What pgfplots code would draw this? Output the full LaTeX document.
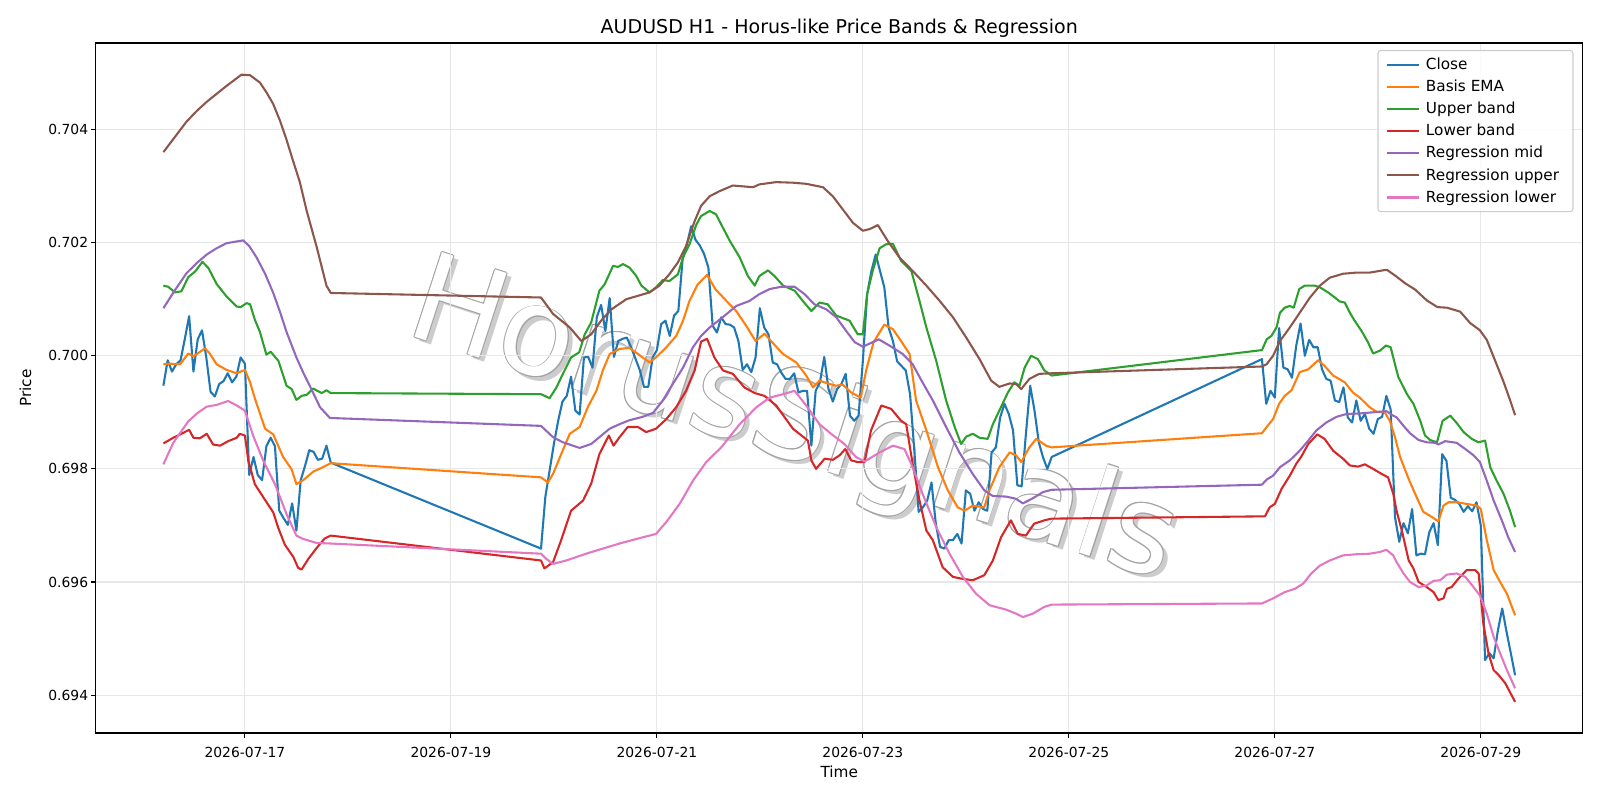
\documentclass[border=0pt]{standalone}
\usepackage{fontspec}
\setmainfont{DejaVu Sans}
\usepackage{pgfplots}
\pgfplotsset{compat=1.18}
\definecolor{C0}{HTML}{1F77B4}
\definecolor{C1}{HTML}{FF7F0E}
\definecolor{C2}{HTML}{2CA02C}
\definecolor{C3}{HTML}{D62728}
\definecolor{C4}{HTML}{9467BD}
\definecolor{C5}{HTML}{8C564B}
\definecolor{C6}{HTML}{E377C2}
\definecolor{gridc}{HTML}{E7E7E7}
\definecolor{legc}{HTML}{CCCCCC}
\begin{document}
\begin{tikzpicture}
% watermark (behind the axis): shadow, outline, fill
\def\wm{\fontsize{88}{88}\selectfont HorusSignals}
\node[rotate=-18, text=black!20, inner sep=0pt] at (505.5pt,219pt) {\wm};
\foreach \dx/\dy in {0.7/0,-0.7/0,0/0.7,0/-0.7,0.5/0.5,-0.5/0.5,0.5/-0.5,-0.5/-0.5}{
  \node[rotate=-18, text=black!36, inner sep=0pt, xshift=\dx pt, yshift=\dy pt] at (502pt,222pt) {\wm};
}
\node[rotate=-18, text=white, inner sep=0pt] at (502pt,222pt) {\wm};
\begin{axis}[
  at={(0,0)}, anchor=south west,
  scale only axis, width=1070.6pt, height=496.8pt,
  xmin=-34.75, xmax=311.75, ymin=0.69333, ymax=0.70553,
  xtick={0,48,96,144,192,240,288},
  xticklabels={2026-07-17,2026-07-19,2026-07-21,2026-07-23,2026-07-25,2026-07-27,2026-07-29},
  ytick={0.694,0.696,0.698,0.700,0.702,0.704},
  yticklabels={0.694,0.696,0.698,0.700,0.702,0.704},
  scaled y ticks=false,
  tick pos=left, tick align=outside,
  major tick length=3.5pt,
  tick style={black, line width=0.8pt},
  axis line style={black, line width=0.8pt},
  grid=major, major grid style={gridc, line width=0.8pt},
  ticklabel style={font=\fontsize{10}{12}\selectfont},
  xticklabel style={yshift=-3.5pt},
  yticklabel style={xshift=1.5pt},
  label style={font=\fontsize{11}{13}\selectfont},
  xlabel={Time}, ylabel={Price},
  xlabel style={at={(axis description cs:0.5,-0.0558)}, anchor=center},
  ylabel style={at={(axis description cs:-0.0473,0.5)}, anchor=center},
  title={AUDUSD H1 - Horus-like Price Bands \& Regression},
  title style={font=\fontsize{13.7}{16}\selectfont, at={(axis description cs:0.5,1.0239)}, anchor=center, yshift=-7.3pt},
  every axis plot/.append style={line width=1.5pt, line join=round, mark=none},
  legend style={at={(1,1)}, anchor=north east, xshift=-6.6pt, yshift=-5pt,
    draw=legc, line width=0.8pt, rounded corners=2pt, fill=white, fill opacity=0.8, text opacity=1,
    font=\fontsize{11}{13}\selectfont, inner xsep=5.5pt, inner ysep=3.2pt, row sep=2.1pt,
    nodes={inner xsep=4.5pt}},
  legend cell align=left,
  legend image code/.code={\draw[#1] (0pt,0pt) -- (23pt,0pt);},
]
% Close
\addplot[C0] coordinates {
(-19,0.69947) (-18,0.69992) (-17,0.69972) (-16,0.69985) (-15,0.69992) (-14,0.70030) (-13,0.70070) (-12,0.69972) (-11,0.70029) (-10,0.70045)
(-9,0.69997) (-8,0.69936) (-7,0.69928) (-6,0.69950) (-5,0.69955) (-4,0.69969) (-3,0.69953) (-2,0.69963) (-1,0.69997) (0,0.69986)
(1,0.69789) (2,0.69821) (3,0.69789) (4,0.69780) (5,0.69840) (6,0.69855) (7,0.69840) (8,0.69726) (9,0.69713) (10,0.69701)
(11,0.69739) (12,0.69691) (13,0.69780) (14,0.69805) (15,0.69833) (16,0.69830) (17,0.69816) (18,0.69818) (19,0.69841) (20,0.69811)
(69,0.69659) (70,0.69750) (71,0.69797) (72,0.69844) (73,0.69885) (74,0.69919) (75,0.69929) (76,0.69963) (77,0.69903) (78,0.69896)
(79,0.69997) (80,0.69998) (81,0.69979) (82,0.70068) (83,0.70090) (84,0.70044) (85,0.70102) (86,0.69998) (87,0.70026) (88,0.70030)
(89,0.70032) (90,0.70015) (91,0.69995) (92,0.69975) (93,0.69945) (94,0.69945) (95,0.69997) (96,0.70010) (97,0.70056) (98,0.70062)
(99,0.70035) (100,0.70071) (101,0.70079) (102,0.70171) (103,0.70197) (104,0.70229) (105,0.70205) (106,0.70195) (107,0.70180) (108,0.70156)
(109,0.70053) (110,0.70041) (111,0.70068) (112,0.70056) (113,0.70055) (114,0.70050) (115,0.70026) (116,0.69975) (117,0.69985) (118,0.69971)
(119,0.69997) (120,0.70084) (121,0.70050) (122,0.70038) (123,0.69988) (124,0.69985) (125,0.69970) (126,0.69959) (127,0.69959) (128,0.69969)
(129,0.69935) (130,0.69938) (131,0.69938) (132,0.69841) (133,0.69938) (134,0.69953) (135,0.69998) (136,0.69941) (137,0.69919) (138,0.69941)
(139,0.69950) (140,0.69968) (141,0.69894) (142,0.69885) (143,0.69894) (144,0.69991) (145,0.70109) (146,0.70150) (147,0.70179) (148,0.70150)
(149,0.70121) (150,0.70050) (151,0.70026) (152,0.69990) (153,0.69982) (154,0.69974) (155,0.69932) (156,0.69832) (157,0.69724) (158,0.69732)
(159,0.69744) (160,0.69776) (161,0.69703) (162,0.69662) (163,0.69659) (164,0.69674) (165,0.69674) (166,0.69685) (167,0.69668) (168,0.69762)
(169,0.69756) (170,0.69726) (171,0.69741) (172,0.69729) (173,0.69726) (174,0.69829) (175,0.69838) (176,0.69891) (177,0.69915) (178,0.69897)
(179,0.69868) (180,0.69771) (181,0.69769) (182,0.69862) (183,0.69947) (184,0.69903) (185,0.69847) (186,0.69820) (187,0.69800) (188,0.69821)
(237,0.69994) (238,0.69915) (239,0.69938) (240,0.69926) (241,0.70049) (242,0.69979) (243,0.69976) (244,0.69961) (245,0.70018) (246,0.70057)
(247,0.70000) (248,0.70028) (249,0.70015) (250,0.70015) (251,0.69976) (252,0.69959) (253,0.69956) (254,0.69921) (255,0.69918) (256,0.69944)
(257,0.69891) (258,0.69882) (259,0.69921) (260,0.69885) (261,0.69897) (262,0.69871) (263,0.69862) (264,0.69888) (265,0.69892) (266,0.69929)
(267,0.69905) (268,0.69715) (269,0.69671) (270,0.69704) (271,0.69686) (272,0.69729) (273,0.69647) (274,0.69650) (275,0.69649) (276,0.69688)
(277,0.69704) (278,0.69665) (279,0.69826) (280,0.69814) (281,0.69749) (282,0.69745) (283,0.69738) (284,0.69724) (285,0.69734) (286,0.69725)
(287,0.69741) (288,0.69700) (289,0.69462) (290,0.69474) (291,0.69465) (292,0.69515) (293,0.69553) (294,0.69512) (295,0.69474) (296,0.69435)
};
\addlegendentry{Close}
% Basis EMA
\addplot[C1] coordinates {
(-19,0.69985) (-17.5,0.69986) (-15.1,0.69985) (-13.2,0.70004) (-12,0.69999) (-9.3,0.70013) (-8.2,0.70004) (-6.6,0.69985) (-4.3,0.69975) (-1.9,0.69969)
(0,0.69975) (1.2,0.69953) (2.3,0.69925) (4.7,0.69871) (6.6,0.69861) (8.9,0.69821) (10.9,0.69799) (12,0.69773) (13.6,0.69780) (15.9,0.69795)
(17.9,0.69802) (20,0.69810)
(69,0.69785) (70.6,0.69776) (71.8,0.69791) (73.7,0.69826) (75.7,0.69862) (78,0.69874) (79.9,0.69909) (81.9,0.69938) (83.4,0.69974) (85,0.70003)
(87.3,0.70012) (89.6,0.70014) (91.6,0.70003) (94.3,0.69988) (96.2,0.70000) (98.2,0.70015) (100.5,0.70035) (102.1,0.70062) (103.6,0.70097) (105.5,0.70126)
(107.7,0.70143) (109.6,0.70118) (112.2,0.70097) (114.5,0.70079) (116.8,0.70053) (119,0.70026) (121.1,0.70039) (122.6,0.70026) (125.4,0.70003) (128.5,0.69988)
(130.8,0.69965) (132.4,0.69944) (133.9,0.69956) (135.8,0.69951) (137.8,0.69947) (139.3,0.69949) (141.3,0.69935) (143.5,0.69926) (144.8,0.69975) (146.5,0.70024)
(149,0.70055) (151,0.70047) (152.9,0.70026) (154.9,0.70003) (156.4,0.69921) (158.8,0.69868) (161.5,0.69803) (163.8,0.69762) (166.1,0.69732) (167.7,0.69726)
(169.6,0.69735) (172.3,0.69732) (173.5,0.69762) (175.8,0.69803) (178.2,0.69829) (179.7,0.69824) (180.9,0.69812) (182.8,0.69838) (184.4,0.69853) (186.7,0.69841)
(188,0.69838)
(237,0.69863) (238.1,0.69874) (239.6,0.69888) (241,0.69915) (242.3,0.69929) (243.9,0.69939) (245.8,0.69971) (247.8,0.69976) (250.1,0.69992) (251.6,0.69982)
(253.6,0.69965) (256.3,0.69953) (258.2,0.69935) (259.8,0.69926) (262.1,0.69909) (263.7,0.69901) (265.6,0.69900) (266.8,0.69885) (268,0.69856) (269.2,0.69821)
(271.2,0.69782) (272.7,0.69756) (274.6,0.69724) (276.6,0.69715) (278.1,0.69707) (279.3,0.69735) (280.5,0.69741) (282.4,0.69741) (284.7,0.69738) (287.1,0.69735)
(288,0.69729) (289.4,0.69674) (291,0.69621) (292.5,0.69600) (294.1,0.69579) (296,0.69541)
};
\addlegendentry{Basis EMA}
% Upper band
\addplot[C2] coordinates {
(-19,0.70124) (-17.9,0.70122) (-16.3,0.70112) (-14.8,0.70114) (-13.2,0.70139) (-11.6,0.70149) (-9.9,0.70166) (-8.5,0.70155) (-6.6,0.70127) (-4.3,0.70105)
(-1.9,0.70087) (-1,0.70086) (0.4,0.70093) (1.2,0.70091) (2.3,0.70064) (3.5,0.70042) (5,0.70002) (6,0.70007) (7.8,0.69991) (9.7,0.69947)
(10.9,0.69941) (12,0.69922) (13.2,0.69929) (14.4,0.69931) (15.9,0.69942) (17.9,0.69934) (19,0.69939) (20,0.69934)
(69,0.69932) (71,0.69925) (72.6,0.69944) (74.1,0.69968) (76,0.69997) (77.9,0.70006) (79.2,0.70038) (80.7,0.70059) (82.6,0.70115) (83.8,0.70126)
(85.8,0.70159) (86.9,0.70157) (88.1,0.70162) (89.6,0.70156) (91.2,0.70141) (92.4,0.70124) (94.3,0.70112) (95.8,0.70121) (97.4,0.70134) (98.9,0.70132)
(100.9,0.70144) (102.1,0.70174) (103.6,0.70197) (105.2,0.70232) (106.3,0.70247) (108.3,0.70256) (109.8,0.70250) (110.6,0.70238) (113,0.70203) (115.3,0.70174)
(117.2,0.70141) (118.8,0.70124) (119.9,0.70141) (121.9,0.70151) (123.4,0.70141) (125.4,0.70124) (128.1,0.70115) (130,0.70097) (132,0.70079) (133.9,0.70094)
(135.8,0.70091) (137.8,0.70071) (140.9,0.70062) (142.8,0.70038) (144,0.70038) (145,0.70109) (146.3,0.70150) (147.9,0.70190) (149.4,0.70197) (151,0.70198)
(152.9,0.70168) (155.3,0.70150) (157.2,0.70097) (158.8,0.70050) (161.1,0.69991) (163.4,0.69921) (165.4,0.69874) (166.9,0.69844) (168.1,0.69857) (169.6,0.69862)
(171.2,0.69855) (173.1,0.69853) (174.3,0.69879) (175.8,0.69903) (177.8,0.69935) (179.3,0.69953) (180.5,0.69947) (181.7,0.69979) (183.2,0.70000) (184.8,0.69994)
(186.3,0.69974) (188,0.69965)
(237,0.70010) (238.1,0.70029) (239.2,0.70035) (240.4,0.70050) (241.2,0.70076) (242.3,0.70085) (243.5,0.70088) (244.4,0.70085) (245.7,0.70118) (247,0.70124)
(249.3,0.70124) (250.5,0.70121) (252.4,0.70112) (254,0.70103) (255.1,0.70096) (256.3,0.70094) (257.5,0.70076) (258.6,0.70062) (260.2,0.70044) (261.7,0.70024)
(262.9,0.70004) (264.5,0.70009) (265.9,0.70018) (267,0.70015) (268,0.69985) (268.8,0.69962) (270.8,0.69932) (272.3,0.69915) (273.9,0.69885) (275,0.69859)
(276.2,0.69851) (277.8,0.69847) (279.1,0.69885) (280.9,0.69894) (282.4,0.69881) (284,0.69865) (285.9,0.69853) (287.5,0.69847) (289,0.69850) (290.2,0.69803)
(291.7,0.69779) (293.3,0.69756) (294.8,0.69726) (296,0.69697)
};
\addlegendentry{Upper band}
% Lower band
\addplot[C3] coordinates {
(-19,0.69845) (-16.7,0.69855) (-14.8,0.69862) (-13,0.69869) (-12,0.69855) (-10.5,0.69854) (-8.9,0.69862) (-7.4,0.69843) (-5.8,0.69841) (-3.9,0.69849)
(-1.9,0.69855) (-1.2,0.69862) (0,0.69859) (0.8,0.69814) (2.3,0.69773) (4.7,0.69745) (6.6,0.69723) (7.8,0.69695) (9.3,0.69666) (11.3,0.69644)
(12.4,0.69625) (13.2,0.69622) (14.8,0.69641) (16.7,0.69660) (18.6,0.69677) (20,0.69682)
(69,0.69638) (69.8,0.69624) (71.8,0.69635) (73.7,0.69674) (76,0.69726) (78.8,0.69744) (80.7,0.69774) (82.6,0.69826) (84.8,0.69859) (85.9,0.69841)
(87.3,0.69856) (89.2,0.69874) (91.6,0.69874) (93.5,0.69865) (95.8,0.69871) (98.2,0.69888) (100.5,0.69909) (102.8,0.69938) (104.8,0.69974) (106.3,0.70025)
(107.7,0.70030) (109.4,0.69997) (111.4,0.69974) (113.7,0.69968) (116.4,0.69944) (118.8,0.69934) (121.1,0.69929) (123.8,0.69912) (125.8,0.69891) (127.7,0.69871)
(129.7,0.69859) (131.2,0.69850) (132,0.69815) (133.1,0.69800) (135.1,0.69818) (137,0.69816) (138.6,0.69824) (139.9,0.69835) (141.3,0.69815) (142.8,0.69812)
(144.4,0.69812) (145.9,0.69868) (148.3,0.69912) (150.6,0.69906) (152.9,0.69885) (154.1,0.69879) (155.6,0.69809) (157.2,0.69744) (158.8,0.69691) (160.3,0.69674)
(162.6,0.69626) (165,0.69609) (166.9,0.69606) (169.6,0.69603) (172.3,0.69612) (174.3,0.69638) (176.2,0.69679) (178.5,0.69709) (180.1,0.69685) (182,0.69682)
(183.9,0.69703) (186.3,0.69709) (188,0.69712)
(237,0.69716) (237.7,0.69716) (238.8,0.69732) (240,0.69738) (241.6,0.69765) (243.5,0.69788) (245,0.69809) (246.2,0.69822) (247.8,0.69844) (249.9,0.69861)
(251.6,0.69853) (253.6,0.69832) (255.9,0.69818) (257.5,0.69806) (259.4,0.69804) (261,0.69808) (262.9,0.69800) (264.9,0.69791) (266.4,0.69785) (267.6,0.69756)
(268.4,0.69725) (269.6,0.69691) (271.2,0.69638) (272.3,0.69624) (273.5,0.69600) (275.4,0.69591) (277,0.69582) (278.1,0.69568) (279.3,0.69571) (280.1,0.69588)
(281.2,0.69591) (282.8,0.69606) (284.7,0.69621) (286.7,0.69621) (287.5,0.69615) (288.6,0.69526) (289.8,0.69474) (291,0.69444) (292.1,0.69436) (293.7,0.69421)
(296,0.69388)
};
\addlegendentry{Lower band}
% Regression mid
\addplot[C4] coordinates {
(-19,0.70084) (-16.3,0.70116) (-13.6,0.70146) (-11.2,0.70164) (-8.9,0.70179) (-6.6,0.70190) (-4.3,0.70199) (-0.4,0.70204) (1,0.70194) (2.7,0.70174)
(4.7,0.70145) (6.6,0.70111) (8.2,0.70077) (9.7,0.70042) (12,0.69997) (13.6,0.69970) (15.1,0.69947) (17.5,0.69909) (19.8,0.69890)
(69,0.69876) (71.8,0.69856) (74.1,0.69847) (78,0.69837) (80.7,0.69844) (82.6,0.69856) (85,0.69871) (87.3,0.69879) (89.6,0.69886) (92.7,0.69892)
(95.1,0.69899) (97.4,0.69921) (99.7,0.69950) (102.1,0.69979) (104.4,0.70015) (106.3,0.70035) (108.3,0.70050) (111,0.70066) (114.5,0.70088) (117.6,0.70097)
(119.9,0.70109) (122.3,0.70118) (125,0.70122) (128.1,0.70122) (130.4,0.70109) (132.7,0.70091) (135.5,0.70082) (137.8,0.70068) (140.1,0.70044) (142.1,0.70024)
(144,0.70016) (146.3,0.70024) (147.7,0.70029) (150.2,0.70018) (153.3,0.70003) (155.6,0.69985) (157.9,0.69953) (160.3,0.69921) (163.4,0.69874) (166.5,0.69829)
(169.6,0.69791) (172.3,0.69762) (174.3,0.69752) (177.4,0.69751) (179.7,0.69747) (181.3,0.69739) (183.6,0.69748) (186,0.69759) (188,0.69763)
(237,0.69772) (238.1,0.69781) (239.6,0.69788) (241.2,0.69803) (243.5,0.69815) (245.8,0.69832) (247.8,0.69850) (249.7,0.69868) (252,0.69882) (254.4,0.69892)
(256.7,0.69897) (259.8,0.69898) (262.9,0.69900) (266,0.69902) (267.6,0.69894) (268.4,0.69891) (270,0.69876) (271.5,0.69863) (273.5,0.69851) (275.4,0.69847)
(277.4,0.69846) (278.1,0.69843) (279.7,0.69849) (282.4,0.69846) (284.4,0.69835) (286.3,0.69824) (287.8,0.69812) (289.4,0.69779) (291,0.69744) (292.9,0.69709)
(294.4,0.69679) (296,0.69653)
};
\addlegendentry{Regression mid}
% Regression upper
\addplot[C5] coordinates {
(-19,0.70360) (-16.5,0.70385) (-13.6,0.70414) (-11.2,0.70433) (-8.9,0.70449) (-6.6,0.70463) (-4.3,0.70477) (-0.8,0.70497) (1.2,0.70496) (3.5,0.70483)
(5,0.70466) (6.6,0.70445) (8.2,0.70415) (9.7,0.70382) (11.2,0.70345) (12.8,0.70307) (14.4,0.70256) (16.7,0.70193) (19,0.70124) (20,0.70111)
(69,0.70103) (71.8,0.70074) (75.7,0.70050) (78.4,0.70026) (80.7,0.70038) (83,0.70062) (85.4,0.70082) (88.9,0.70100) (91.6,0.70106) (94.3,0.70112)
(96.6,0.70124) (98.9,0.70144) (100.9,0.70165) (102.8,0.70194) (104.8,0.70238) (106.3,0.70265) (108.3,0.70282) (110.6,0.70291) (113.7,0.70301) (118.4,0.70298)
(119.9,0.70303) (123.8,0.70307) (127.7,0.70306) (130.8,0.70304) (134.7,0.70298) (137,0.70282) (139.3,0.70259) (141.7,0.70235) (144,0.70221) (145.6,0.70224)
(147.5,0.70231) (149.8,0.70203) (152.5,0.70174) (155.6,0.70150) (158.8,0.70124) (161.9,0.70097) (165,0.70068) (168.1,0.70032) (171.2,0.69994) (173.9,0.69956)
(175.8,0.69945) (178.2,0.69951) (179.7,0.69950) (180.9,0.69941) (182.8,0.69959) (185.1,0.69968) (188,0.69969)
(237,0.69981) (238.1,0.69985) (239.6,0.70000) (241.2,0.70026) (243.5,0.70050) (245.8,0.70076) (248.2,0.70103) (250.5,0.70124) (252.8,0.70138) (255.9,0.70145)
(259,0.70147) (262.1,0.70147) (265.2,0.70151) (266.1,0.70152) (268,0.70142) (270.4,0.70128) (272.7,0.70117) (275.4,0.70098) (277.9,0.70086) (280.1,0.70085)
(283.2,0.70078) (285.5,0.70058) (287.8,0.70045) (289.4,0.70028) (291.3,0.69992) (293.3,0.69954) (294.8,0.69922) (296,0.69895)
};
\addlegendentry{Regression upper}
% Regression lower
\addplot[C6] coordinates {
(-19,0.69808) (-16.7,0.69846) (-13.2,0.69884) (-11,0.69899) (-8.9,0.69910) (-6.6,0.69913) (-3.9,0.69920) (-1.9,0.69912) (0,0.69903) (1.9,0.69859)
(4.3,0.69814) (7,0.69773) (9.7,0.69720) (12,0.69682) (13.6,0.69676) (16.7,0.69669) (20,0.69668)
(69,0.69650) (70.2,0.69641) (71.8,0.69632) (74.9,0.69638) (79.5,0.69650) (83.4,0.69659) (87.3,0.69668) (91.2,0.69676) (95.8,0.69685) (98.2,0.69706)
(101.3,0.69738) (104.4,0.69779) (107.5,0.69812) (111,0.69838) (115.3,0.69879) (119.2,0.69909) (122.3,0.69926) (125.4,0.69932) (128.1,0.69938) (130.8,0.69912)
(133.9,0.69879) (136.6,0.69862) (139.7,0.69844) (142.4,0.69821) (144.4,0.69813) (147.9,0.69829) (151,0.69841) (153.7,0.69835) (155.6,0.69803) (157.9,0.69756)
(161.1,0.69697) (164.2,0.69650) (167.3,0.69609) (170.4,0.69579) (173.5,0.69559) (177.4,0.69551) (179.7,0.69544) (181.3,0.69538) (183.6,0.69544) (186.3,0.69556)
(188,0.69560)
(237,0.69562) (239.6,0.69571) (242.3,0.69582) (244.7,0.69588) (246.6,0.69597) (248.5,0.69615) (250.5,0.69629) (252.8,0.69638) (255.9,0.69647) (259,0.69649)
(262.1,0.69650) (264.5,0.69653) (266,0.69657) (267.6,0.69647) (268.4,0.69635) (270,0.69615) (271.5,0.69600) (273.5,0.69591) (275.4,0.69594) (277,0.69602)
(278.5,0.69603) (280.1,0.69613) (282.4,0.69615) (284.4,0.69609) (286.3,0.69591) (287.8,0.69576) (289.4,0.69544) (291,0.69503) (292.5,0.69474) (294.1,0.69444)
(296,0.69412)
};
\addlegendentry{Regression lower}
\end{axis}
\pgfresetboundingbox
\path[use as bounding box] (-68.98pt,-48.24pt) rectangle (1083.06pt,527.76pt);
\end{tikzpicture}
\end{document}
